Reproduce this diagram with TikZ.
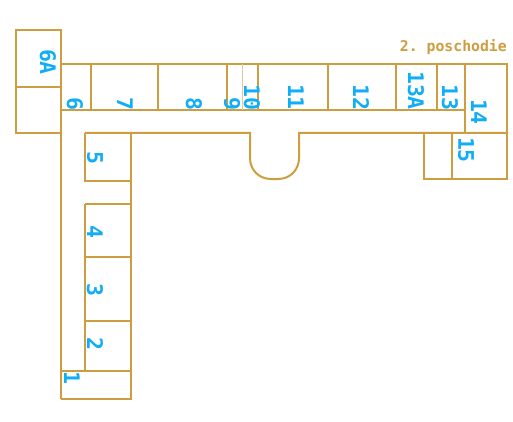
\documentclass[tikz,border=0pt]{standalone}
\usepackage{fontspec}
\setmonofont{DejaVu Sans Mono}
\definecolor{wall}{HTML}{CC9E3F}
\definecolor{lbl}{HTML}{12ADF7}
\tikzset{
  wallline/.style={draw=wall,line width=2pt},
  thinwall/.style={draw=wall!55,line width=1pt},
  roomlabel/.style={text=lbl,font=\ttfamily\bfseries\fontsize{21.5}{21}\selectfont,rotate=-90,inner sep=0pt,anchor=center},
  floorlabel/.style={text=wall,font=\ttfamily\bfseries\fontsize{14.8}{15}\selectfont,inner sep=0pt}
}
\begin{document}
\begin{tikzpicture}[x=1pt,y=-1pt]
\useasboundingbox (0,0) rectangle (513,422);
% 6A block
\draw[wallline] (61.2,399) -- (61.2,30) -- (16,30) -- (16,133) -- (61.2,133);
\draw[wallline] (16,87) -- (61.2,87);
% top corridor
\draw[wallline] (61.2,64) -- (507,64) -- (507,179) -- (424,179) -- (424,133);
\draw[wallline] (61.2,110) -- (465,110);
\foreach \x in {91,158,227,258,328,396,437} \draw[wallline] (\x,64) -- (\x,110);
\draw[thinwall] (242,64) -- (242,110);
\draw[wallline] (465,64) -- (465,133);
\draw[wallline] (452,133) -- (452,179);
% inner wall with apse
\draw[wallline] (85,133) -- (250,133) -- (250,158) .. controls (250,170) and (259,179) .. (271,179) -- (278,179) .. controls (290,179) and (299,170) .. (299,158) -- (299,133) -- (507,133);
% left wing
\draw[wallline] (85,133) -- (85,181) -- (131,181);
\draw[wallline] (131,133) -- (131,399) -- (61.2,399);
\draw[wallline] (85,204) -- (131,204);
\draw[wallline] (85,204) -- (85,371);
\draw[wallline] (85,257) -- (131,257);
\draw[wallline] (85,321) -- (131,321);
\draw[wallline] (61.2,371) -- (131,371);
% labels
\node[roomlabel] (r6a) at (48,62) {6A};
\node[roomlabel] (r6) at (75,103.5) {6};
\node[roomlabel] (r7) at (125,103.5) {7};
\node[roomlabel] (r8) at (194,103.5) {8};
\node[roomlabel] (r9) at (232,103.5) {9};
\node[roomlabel] (r10) at (252,97.5) {10};
\node[roomlabel] (r11) at (296,97) {11};
\node[roomlabel] (r12) at (361,97.5) {12};
\node[roomlabel] (r13a) at (416,90.5) {13A};
\node[roomlabel] (r13) at (450,97.5) {13};
\node[roomlabel] (r14) at (479,112) {14};
\node[roomlabel] (r15) at (466,150) {15};
\node[roomlabel] (r5) at (95,157.5) {5};
\node[roomlabel] (r4) at (95,231.5) {4};
\node[roomlabel] (r3) at (95,290) {3};
\node[roomlabel] (r2) at (95,343.5) {2};
\node[roomlabel] (r1) at (72,378) {1};
\node[floorlabel,anchor=east] (title) at (507,47.5) {2. poschodie};
\end{tikzpicture}
\end{document}
